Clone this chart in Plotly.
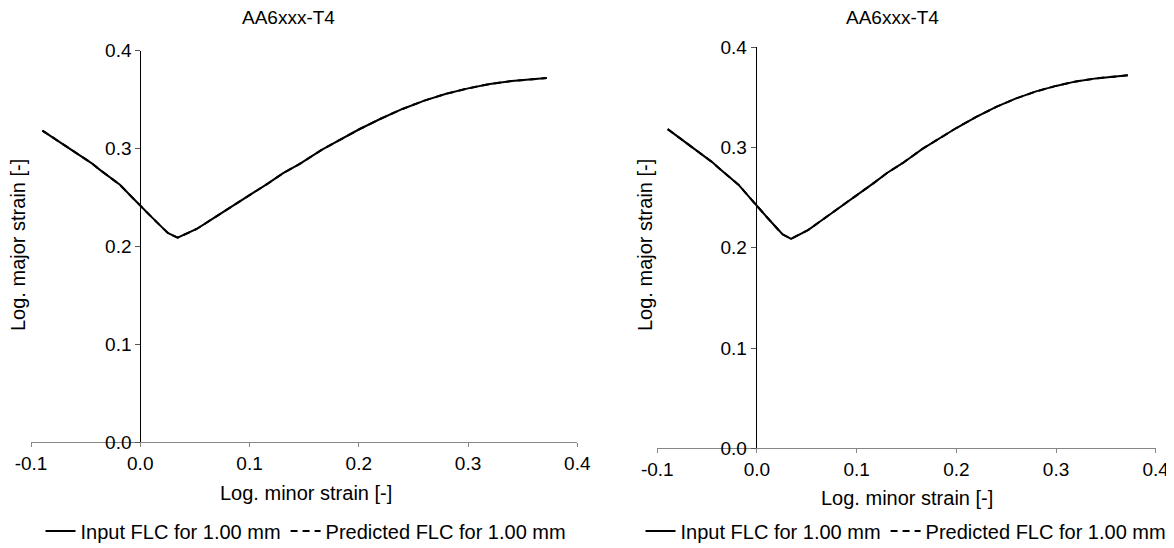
import plotly.graph_objects as go

# ---- data ----
minor_strain = [-0.0896, -0.075, -0.060, -0.045, -0.0369, -0.025, -0.0186, -0.0064, 0.0,
                0.010, 0.020, 0.0256, 0.0342, 0.042, 0.0516, 0.065, 0.079, 0.0915,
                0.1034, 0.117, 0.1308, 0.146, 0.166, 0.185, 0.200, 0.220, 0.240,
                0.260, 0.280, 0.300, 0.320, 0.340, 0.355, 0.372]
major_strain = [0.3184, 0.3079, 0.2970, 0.2855, 0.2783, 0.2688, 0.2630, 0.2490, 0.2414,
                0.2305, 0.2195, 0.2135, 0.2090, 0.2130, 0.2179, 0.2275, 0.2373, 0.2460,
                0.2544, 0.2645, 0.2749, 0.2844, 0.2987, 0.3105, 0.3195, 0.3305, 0.3405,
                0.3490, 0.3560, 0.3615, 0.3660, 0.3690, 0.3705, 0.3720]
predicted_minor = list(minor_strain)
predicted_major = list(major_strain)

chart_title = "AA6xxx-T4"
x_title = "Log. minor strain [-]"
y_title = "Log. major strain [-]"
x_ticks = [-0.1, 0.0, 0.1, 0.2, 0.3, 0.4]
y_ticks = [0.0, 0.1, 0.2, 0.3, 0.4]
input_name = "Input FLC for 1.00 mm"
pred_name = "Predicted FLC for 1.00 mm"

# the page body has an 8px margin: size the figure so it ends at the window edge
OFF = 8
W, H = 1174 - OFF, 548 - OFF
FONT = "Liberation Sans, Arial, sans-serif"
FS = 19
FS_BIG = 20

def px(x):
    return (x - OFF) / W

def py(y):
    return 1 - (y - OFF) / H

panels = [
    dict(x0=31.0, x1=577.3, y0=442.3, y1=50.7, yax0=140.3, title=(288, 18), xt=(306, 493), yt=(18, 245), leg=(306, 531)),
    dict(x0=657.3, x1=1155.7, y0=448.3, y1=47.3, yax0=755.7, title=(892, 18), xt=(907, 498), yt=(645, 245), leg=(906, 531)),
]

fig = go.Figure()
annotations = []
for i, p in enumerate(panels):
    n = "" if i == 0 else str(i + 1)
    xa, ya = "x" + n, "y" + n
    leg = "legend" if i == 0 else "legend2"
    fig.add_trace(go.Scatter(x=predicted_minor, y=predicted_major, mode="lines", name=pred_name,
                             line=dict(color="black", width=2, dash="7px,5px"), xaxis=xa, yaxis=ya,
                             legend=leg, legendrank=2))
    fig.add_trace(go.Scatter(x=minor_strain, y=major_strain, mode="lines", name=input_name,
                             line=dict(color="black", width=2), xaxis=xa, yaxis=ya,
                             legend=leg, legendrank=1))
    xkey = "xaxis" + n
    ykey = "yaxis" + n
    fig.update_layout(**{
        xkey: dict(domain=[px(p["x0"]), px(p["x1"])], range=[-0.1, 0.4], anchor=ya,
                   tickvals=x_ticks, ticktext=[f"{v:.1f}" for v in x_ticks], automargin=False,
                   showgrid=False, zeroline=False, showline=True, linecolor="#868686", linewidth=1,
                   ticks="outside", ticklen=4, tickcolor="#868686", tickwidth=1,
                   tickfont=dict(family=FONT, size=FS, color="black"), fixedrange=True),
        ykey: dict(domain=[py(p["y0"]), py(p["y1"])], range=[0, 0.4], anchor="free",
                   position=px(p["yax0"]), automargin=False,
                   tickvals=y_ticks, ticktext=[f"{v:.1f}" for v in y_ticks],
                   showgrid=False, zeroline=False, showline=True, linecolor="black", linewidth=1,
                   ticks="outside", ticklen=5, tickcolor="#555555", tickwidth=1,
                   tickfont=dict(family=FONT, size=FS, color="black"), fixedrange=True),
    })
    annotations += [
        dict(text=chart_title, x=px(p["title"][0]), y=py(p["title"][1]), xref="paper", yref="paper",
             showarrow=False, xanchor="center", yanchor="middle", font=dict(family=FONT, size=FS, color="black")),
        dict(text=x_title, x=px(p["xt"][0]), y=py(p["xt"][1]), xref="paper", yref="paper",
             showarrow=False, xanchor="center", yanchor="middle", font=dict(family=FONT, size=FS_BIG, color="black")),
        dict(text=y_title, x=px(p["yt"][0]), y=py(p["yt"][1]), xref="paper", yref="paper", textangle=-90,
             showarrow=False, xanchor="center", yanchor="middle", font=dict(family=FONT, size=FS_BIG, color="black")),
    ]

legend_common = dict(orientation="h", xanchor="center", yanchor="middle", bgcolor="rgba(0,0,0,0)",
                     font=dict(family=FONT, size=FS_BIG, color="black"), traceorder="normal",
                     itemwidth=30, tracegroupgap=0)
fig.update_layout(
    template="none",
    width=W, height=H, margin=dict(l=0, r=0, t=0, b=0, autoexpand=False),
    paper_bgcolor="white", plot_bgcolor="white",
    showlegend=True,
    legend=dict(x=px(panels[0]["leg"][0]), y=py(panels[0]["leg"][1]), **legend_common),
    legend2=dict(x=px(panels[1]["leg"][0]), y=py(panels[1]["leg"][1]), **legend_common),
    annotations=annotations,
)

fig.write_html("out.html")
